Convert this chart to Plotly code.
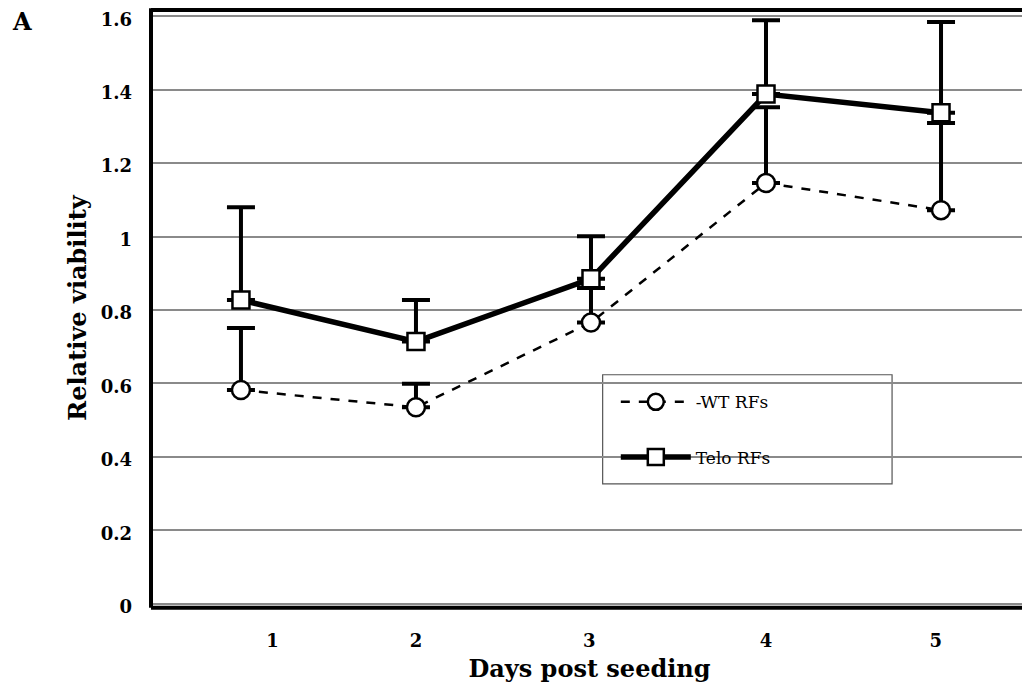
import plotly.graph_objects as go

days = [1, 2, 3, 4, 5]
wt_values = [0.582, 0.535, 0.766, 1.146, 1.072]
wt_err_up = [0.169, 0.064, 0.094, 0.206, 0.237]
telo_values = [0.827, 0.714, 0.885, 1.388, 1.337]
telo_err_up = [0.253, 0.113, 0.116, 0.201, 0.247]

x_tick_positions = [1.18, 2.0, 2.99, 4.0, 4.97]
x_tick_labels = ["1", "2", "3", "4", "5"]
y_tick_values = [0, 0.2, 0.4, 0.6, 0.8, 1.0, 1.2, 1.4, 1.6]
y_tick_labels = ["0", "0.2", "0.4", "0.6", "0.8", "1", "1.2", "1.4", "1.6"]

SERIF = "DejaVu Serif, serif"

fig = go.Figure()

fig.add_trace(go.Scatter(
    x=days, y=wt_values, name="-WT RFs", mode="lines+markers",
    legendgroup="wt",
    line=dict(color="black", width=2.5, dash="dash"),
    marker=dict(symbol="circle", size=18, color="white",
                line=dict(color="black", width=2.5)),
    error_y=dict(type="data", array=wt_err_up, arrayminus=[0]*5,
                 symmetric=False, color="black", thickness=4, width=14),
))

fig.add_trace(go.Scatter(
    x=days, y=telo_values, name="Telo RFs", mode="lines+markers",
    legendgroup="telo",
    line=dict(color="black", width=5.5),
    marker=dict(symbol="square", size=17, color="white",
                line=dict(color="black", width=2.5)),
    error_y=dict(type="data", array=telo_err_up, arrayminus=[0]*5,
                 symmetric=False, color="black", thickness=4, width=14),
))

# page body has an 8px margin, so the figure is drawn 8px smaller and offset
fig.update_layout(
    width=1022, height=682,
    margin=dict(l=143, r=2, t=2, b=84, autoexpand=False),
    paper_bgcolor="white", plot_bgcolor="white",
    font=dict(family=SERIF, color="black"),
    showlegend=True,
    legend=dict(
        x=0.530, y=0.372, xanchor="left", yanchor="top",
        bgcolor="rgba(0,0,0,0)", borderwidth=0,
        font=dict(family=SERIF, size=17, color="black"),
        itemwidth=70, tracegroupgap=30,
    ),
    xaxis=dict(
        range=[0.486, 5.497], showgrid=False, zeroline=False, automargin=False,
        tickmode="array", tickvals=x_tick_positions, ticktext=x_tick_labels,
        ticks="", ticklabelstandoff=22,
        tickfont=dict(family=SERIF, size=18, weight="bold"),
        title=dict(text="Days post seeding", standoff=10,
                   font=dict(family=SERIF, size=24, weight="bold")),
        showline=False,
    ),
    yaxis=dict(
        range=[-0.006, 1.617], showgrid=True, gridcolor="#8a8a8a", gridwidth=1.5,
        zeroline=False, automargin=False, ticklabeloverflow="allow",
        tickmode="array", tickvals=y_tick_values, ticktext=y_tick_labels,
        ticks="", ticklabelstandoff=18, ticklabelshift=3,
        tickfont=dict(family=SERIF, size=18, weight="bold"),
        title=dict(text="Relative viability", standoff=7,
                   font=dict(family=SERIF, size=24, weight="bold")),
        showline=False,
    ),
    shapes=[
        dict(type="line", xref="paper", yref="y", x0=0, x1=1, y0=0.8, y1=0.8,
             line=dict(color="black", width=1), layer="below"),
        dict(type="line", xref="paper", yref="y", x0=0.537, x1=0.657, y0=1.4, y1=1.4,
             line=dict(color="#333333", width=1.5), layer="below"),
        dict(type="line", xref="paper", yref="paper", x0=0, x1=0, y0=-0.003, y1=1.003,
             line=dict(color="black", width=4)),
        dict(type="line", xref="paper", yref="paper", x0=0, x1=1, y0=1, y1=1,
             line=dict(color="black", width=4)),
        dict(type="line", xref="paper", yref="paper", x0=0, x1=1, y0=-0.003, y1=-0.003,
             line=dict(color="black", width=4)),
        dict(type="line", xref="paper", yref="paper", x0=0.999, x1=0.999, y0=0, y1=1,
             line=dict(color="black", width=2)),
        dict(type="rect", xref="paper", yref="paper", x0=0.515, x1=0.845, y0=0.205, y1=0.388,
             line=dict(color="#555555", width=1.2), fillcolor="white", layer="below"),
    ],
    annotations=[
        dict(text="A", xref="paper", yref="paper", x=-0.147, y=0.98,
             xanchor="center", yanchor="middle", showarrow=False,
             font=dict(family=SERIF, size=24, weight="bold")),
    ],
)

fig.write_html("out.html")
